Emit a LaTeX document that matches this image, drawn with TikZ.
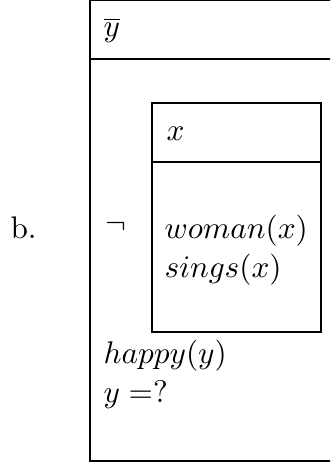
\documentclass[tikz,border=0pt]{standalone}
\usepackage{amsmath}
\usetikzlibrary{positioning}

\begin{document}
\begin{tikzpicture}[x=0.32pt, y=-0.32pt, thin,
    every node/.style={inner sep=0pt, anchor=base west}]
    \useasboundingbox (0,0) rectangle (330,463);
    \clip (0,0) rectangle (330,463);
    % outer box
    \draw (90,0) rectangle (345,461);
    \draw (90,59) -- (345,59);
    % inner box
    \draw (152,103) rectangle (321,332);
    \draw (152,162) -- (321,162);
    \node (label) at (10,238) {b.};
    \node (ybar) at (103,37) {$\overline{y}$};
    \node (neg) at (105,233) {$\neg$};
    \node (xref) at (166,140) {$x$};
    \node (woman) at (164,238) {$woman(x)$};
    \node (sings) at ([yshift=-12.5pt]woman.base west) {$sings(x)$};
    \node (happy) at (103,363) {$happy(y)$};
    \node (query) at ([yshift=-12.5pt]happy.base west) {$y =?$};
\end{tikzpicture}
\end{document}
